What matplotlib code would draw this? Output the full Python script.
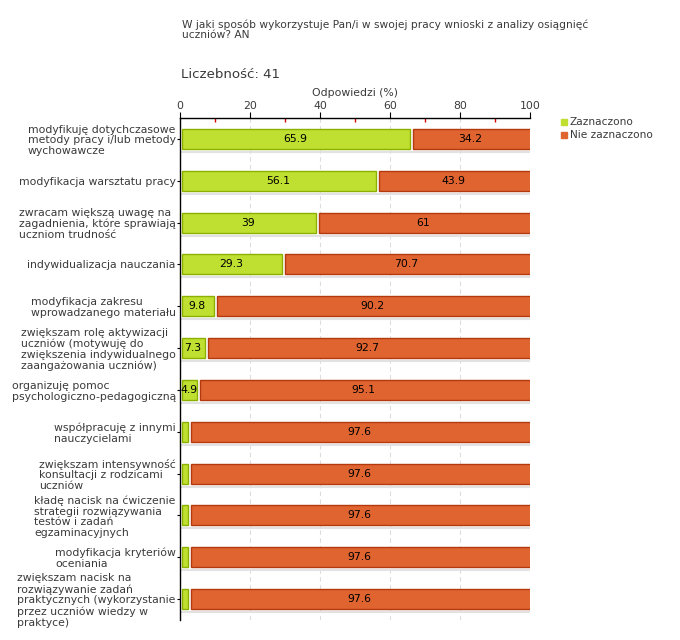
import matplotlib.pyplot as plt
import numpy as np

categories = [
    "modyfikuję dotychczasowe\nmetody pracy i/lub metody\nwychowawcze",
    "modyfikacja warsztatu pracy",
    "zwracam większą uwagę na\nzagadnienia, które sprawiają\nuczniom trudność",
    "indywidualizacja nauczania",
    "modyfikacja zakresu\nwprowadzanego materiału",
    "zwiększam rolę aktywizacji\nuczniów (motywuję do\nzwiększenia indywidualnego\nzaangażowania uczniów)",
    "organizuję pomoc\npsychologiczno-pedagogiczną",
    "współpracuję z innymi\nnauczycielami",
    "zwiększam intensywność\nkonsultacji z rodzicami\nuczniów",
    "kładę nacisk na ćwiczenie\nstrategii rozwiązywania\ntestów i zadań\negzaminacyjnych",
    "modyfikacja kryteriów\noceniania",
    "zwiększam nacisk na\nrozwiązywanie zadań\npraktycznych (wykorzystanie\nprzez uczniów wiedzy w\npraktyce)",
]
zaznaczono = [65.9, 56.1, 39, 29.3, 9.8, 7.3, 4.9, 2.4, 2.4, 2.4, 2.4, 2.4]
nie_zaznaczono = [34.2, 43.9, 61, 70.7, 90.2, 92.7, 95.1, 97.6, 97.6, 97.6, 97.6, 97.6]
series_names = ["Zaznaczono", "Nie zaznaczono"]

green, green_edge = "#bfe031", "#8cb000"
orange, orange_edge = "#e06430", "#b33a0e"
txt = "#3a3a3a"

fig = plt.figure(figsize=(6.8, 6.4), dpi=100)
ax = fig.add_axes([180 / 680, 1 - 620 / 640, 350 / 680, 502 / 640])

y = np.arange(len(categories))
h = 0.48
gap = 0.6  # small gap between segments, in data units

for yi, g, o in zip(y, zaznaczono, nie_zaznaczono):
    # light shadow line below each bar
    ax.plot([0.5, 100], [yi + h / 2 + 0.07] * 2, color="#e2e2e2", lw=1.5, zorder=1)
    ax.barh(yi, g - gap, left=0.5, height=h, color=green, edgecolor=green_edge,
            linewidth=1, zorder=3)
    ax.barh(yi, o - gap, left=g + gap / 2 + 0.5, height=h, color=orange,
            edgecolor=orange_edge, linewidth=1, zorder=3)
    if g >= 4:
        ax.text(g / 2, yi, f"{g:g}", ha="center", va="center", fontsize=7.8,
                color="black", zorder=4)
    ax.text(g + o / 2, yi, f"{o:g}", ha="center", va="center", fontsize=7.8,
            color="black", zorder=4)

ax.set_xlim(0, 100)
ax.set_ylim(len(categories) - 0.5, -0.5)

ax.xaxis.tick_top()
ax.xaxis.set_label_position("top")
ax.set_xticks(np.arange(0, 101, 20))
ax.set_xticks(np.arange(10, 100, 20), minor=True)
ax.tick_params(axis="x", which="major", direction="out", length=4, color="black",
               labelsize=7.8, labelcolor=txt, pad=1)
ax.tick_params(axis="x", which="minor", direction="in", length=3, width=1,
               color="#dd0000")
ax.set_xlabel("Odpowiedzi (%)", fontsize=7.8, color=txt, labelpad=4)

ax.set_yticks(y)
ax.set_yticklabels(categories, fontsize=7.8, color=txt, multialignment="left",
                   linespacing=1.1)
ax.tick_params(axis="y", length=2, color="black", pad=1)

for x in range(20, 101, 20):
    ax.axvline(x, color="#dddddd", lw=0.8, ls=(0, (4, 3)), zorder=0)

for side in ["right", "bottom"]:
    ax.spines[side].set_visible(False)
ax.spines["top"].set_linewidth(1)
ax.spines["left"].set_linewidth(1)

fig.text(182 / 680, 1 - 19 / 640,
         "W jaki sposób wykorzystuje Pan/i w swojej pracy wnioski z analizy osiągnięć\nuczniów? AN",
         fontsize=7.7, color=txt, va="top", ha="left", linespacing=1.1)
fig.text(181 / 680, 1 - 75 / 640, "Liczebność: 41", fontsize=9.6, color=txt,
         va="center", ha="left")

# legend
for i, (name, c) in enumerate(zip(series_names, [green, orange])):
    yy = 1 - (122 + i * 13) / 640
    fig.patches.append(plt.Rectangle((561 / 680, yy - 3 / 640), 6 / 680, 6 / 640,
                                     transform=fig.transFigure, color=c))
    fig.text(570 / 680, yy, name, fontsize=7.6, color=txt, va="center", ha="left")

fig.savefig("out.png", dpi=100)
